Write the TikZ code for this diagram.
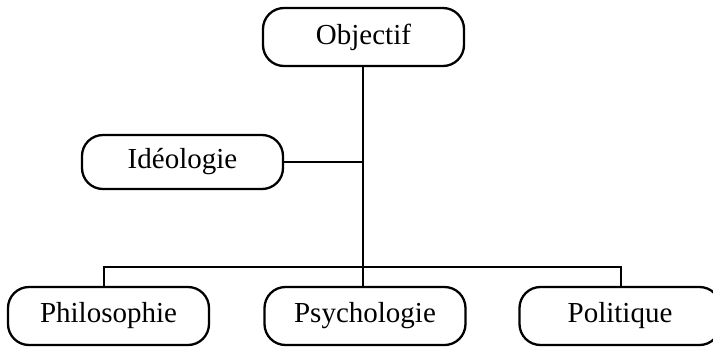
\documentclass[tikz,border=0pt]{standalone}
\usepackage{fontspec}
\setmainfont{Liberation Serif}
\begin{document}
\begin{tikzpicture}[x=1pt,y=-1pt,
  box/.style={draw,line width=2.3pt,rounded corners=21pt,minimum width=201pt,minimum height=58pt,inner sep=0pt,font=\fontsize{29}{34}\selectfont},
  conn/.style={line width=2.3pt}]
\useasboundingbox (0,0) rectangle (713,349);
\node[box] (obj) at (363.5,37) {Objectif};
\node[box,minimum height=54pt] (ide) at (182.5,162) {Idéologie};
\node[box] (phi) at (108.5,316) {Philosophie};
\node[box] (psy) at (365,316) {Psychologie};
\node[box] (pol) at (620,316) {Politique};
\coordinate (bar) at (363,267);
\coordinate (lft) at (104,267);
\coordinate (rgt) at (621,267);
\draw[conn] (obj.south -| bar) -- (bar);
\draw[conn] (ide.east) -- (ide.east -| bar);
\draw[conn] (phi.north -| lft) -- (lft) -- (rgt) -- (pol.north -| rgt);
\draw[conn] (bar) -- (psy.north -| bar);
\end{tikzpicture}
\end{document}
